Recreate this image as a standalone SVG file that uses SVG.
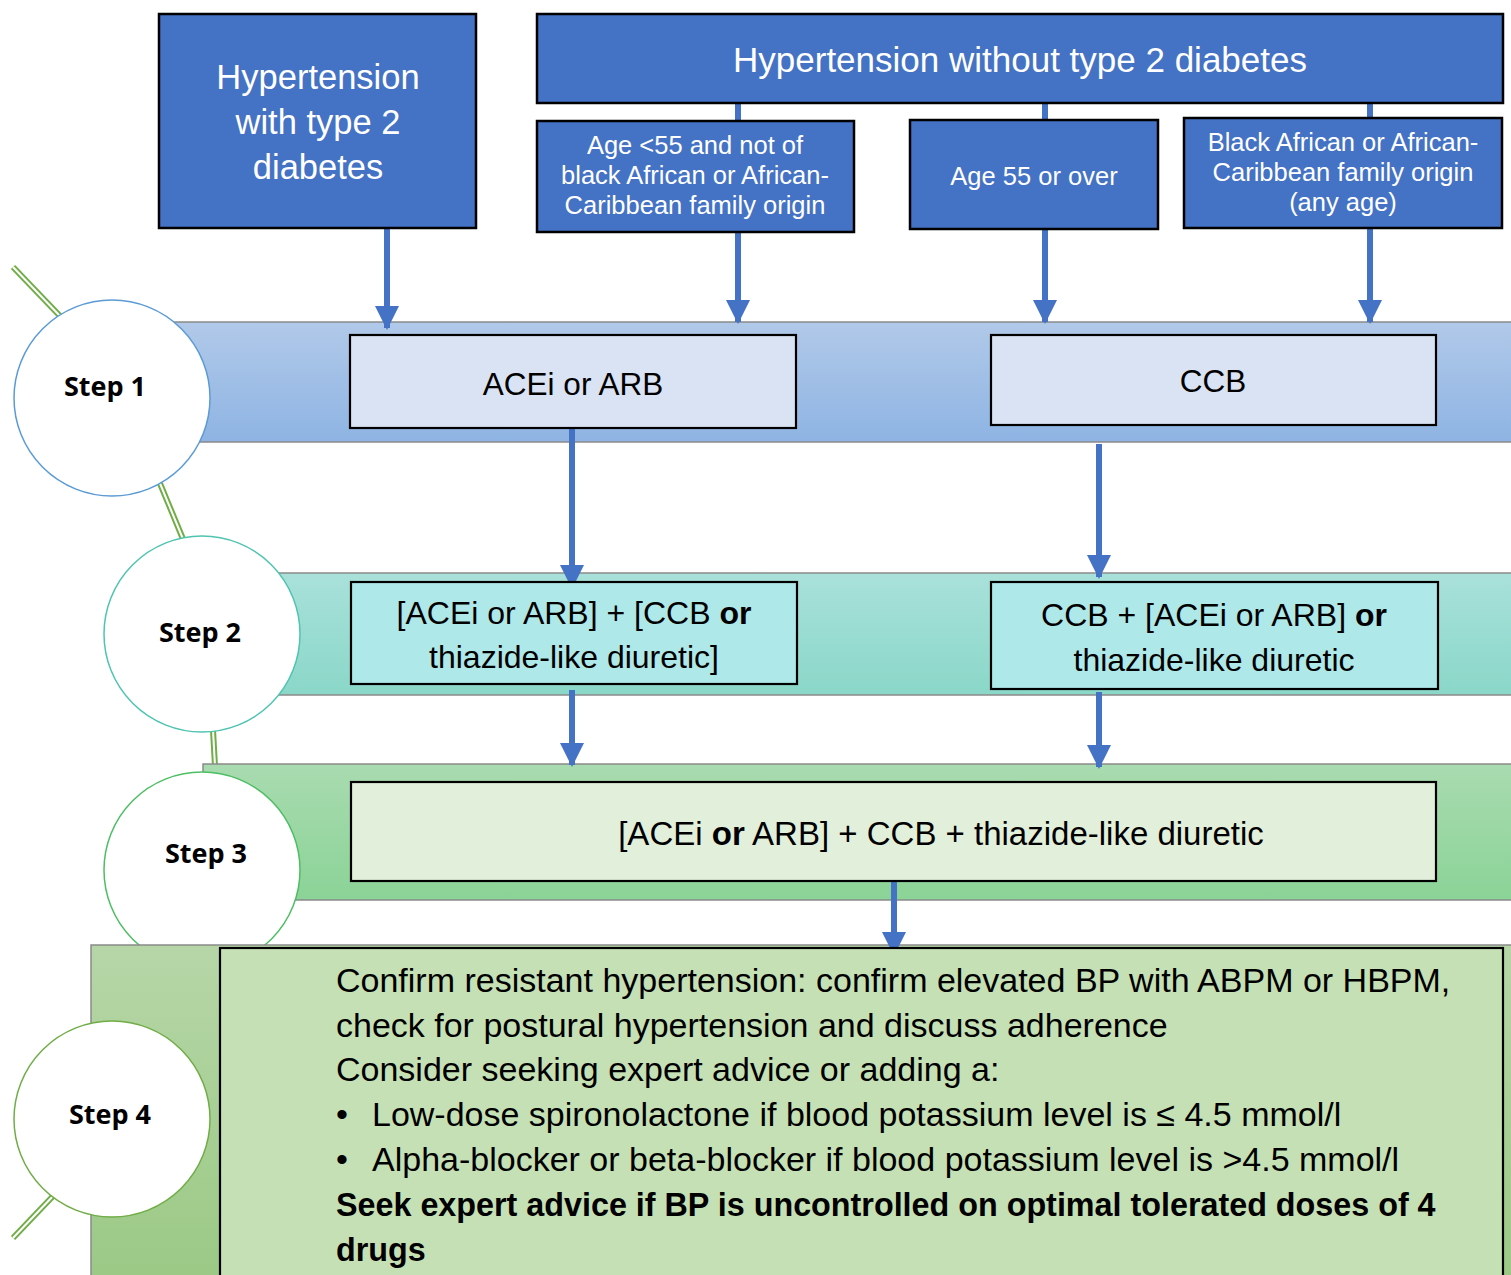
<svg xmlns="http://www.w3.org/2000/svg" width="1511" height="1275" viewBox="0 0 1511 1275">
<style>
  .t { font-family: "Liberation Sans", Arial, sans-serif; }
  .w { fill: #ffffff; }
  .k { fill: #000000; }
  .blue { fill: #4472C4; stroke: #000000; stroke-width: 2.5; }
  .band { stroke: #8a8a8a; stroke-width: 1.5; }
  .box { stroke: #000000; stroke-width: 2.2; }
  .circ { fill: #ffffff; stroke-width: 1.5; }
  .conn { stroke: #4472C4; stroke-width: 6; fill: none; }
  .arrow { stroke: #4472C4; stroke-width: 6; fill: none; marker-end: url(#ah); }
  .gl1 { stroke: #70AD47; stroke-width: 6; fill: none; }
  .gl2 { stroke: #ffffff; stroke-width: 2; fill: none; }
  .step { font-family: "Open Sans", "Liberation Sans", sans-serif; font-weight: bold; font-size: 27px; fill: #000; text-anchor: middle; }
</style>
<defs>
  <marker id="ah" markerUnits="userSpaceOnUse" markerWidth="24" markerHeight="24" viewBox="0 0 24 24" refX="22" refY="12" orient="auto">
    <path d="M0,0 L24,12 L0,24 Z" fill="#4472C4"/>
  </marker>
  <linearGradient id="g1" x1="0" y1="0" x2="0" y2="1"><stop offset="0" stop-color="#B1C9E9"/><stop offset="1" stop-color="#8EB4E3"/></linearGradient>
  <linearGradient id="g2" x1="0" y1="0" x2="0" y2="1"><stop offset="0" stop-color="#A9E1DA"/><stop offset="1" stop-color="#8AD7C8"/></linearGradient>
  <linearGradient id="g3" x1="0" y1="0" x2="0" y2="1"><stop offset="0" stop-color="#A9DBB0"/><stop offset="1" stop-color="#8BD397"/></linearGradient>
  <linearGradient id="g4" x1="0" y1="0" x2="0" y2="1"><stop offset="0" stop-color="#B6D6A7"/><stop offset="1" stop-color="#9BC985"/></linearGradient>
</defs>

<!-- green linking lines between step circles -->
<g id="step-links">
  <path class="gl1" d="M13,267 L60,316"/><path class="gl2" d="M13,267 L60,316"/>
  <path class="gl1" d="M159,481 L183,539"/><path class="gl2" d="M159,481 L183,539"/>
  <path class="gl1" d="M213,730 L215,766"/><path class="gl2" d="M213,730 L215,766"/>
  <path class="gl1" d="M55,1194 L13,1238"/><path class="gl2" d="M55,1194 L13,1238"/>
</g>

<!-- step bands and circles -->
<g id="step1">
  <rect class="band" x="170" y="322" width="1345" height="120" fill="url(#g1)"/>
  <circle class="circ" cx="112" cy="398" r="98" stroke="#5B9BD5"/>
  <text class="step" x="105" y="396">Step 1</text>
</g>
<g id="step2">
  <rect class="band" x="270" y="573" width="1245" height="122" fill="url(#g2)"/>
  <circle class="circ" cx="202" cy="634" r="98" stroke="#4FC4B1"/>
  <text class="step" x="200" y="642">Step 2</text>
</g>
<g id="step3">
  <rect class="band" x="203" y="764" width="1312" height="136" fill="url(#g3)"/>
  <circle class="circ" cx="202" cy="870" r="98" stroke="#4DBE63"/>
  <text class="step" x="206" y="863">Step 3</text>
</g>
<g id="step4">
  <rect class="band" x="91" y="945" width="1424" height="335" fill="url(#g4)"/>
  <circle class="circ" cx="112" cy="1119" r="98" stroke="#70AD47"/>
  <text class="step" x="110" y="1124">Step 4</text>
</g>

<!-- connectors -->
<g id="connectors">
  <path class="conn" d="M738,103 L738,121"/>
  <path class="conn" d="M1045,103 L1045,120"/>
  <path class="conn" d="M1370,103 L1370,118"/>
  <path class="arrow" d="M387,228 L387,328"/>
  <path class="arrow" d="M738,232 L738,322"/>
  <path class="arrow" d="M1045,229 L1045,322"/>
  <path class="arrow" d="M1370,228 L1370,322"/>
  <path class="arrow" d="M572,426 L572,587"/>
  <path class="arrow" d="M1099,444 L1099,577"/>
  <path class="arrow" d="M572,690 L572,765"/>
  <path class="arrow" d="M1099,692 L1099,767"/>
  <path class="arrow" d="M894,882 L894,954"/>
</g>

<!-- top nodes -->
<g id="node-t2d">
  <rect class="blue" x="159" y="14" width="317" height="214"/>
  <text class="t w" font-size="34.5" text-anchor="middle"><tspan x="318" y="89">Hypertension</tspan><tspan x="318" y="134">with type 2</tspan><tspan x="318" y="179">diabetes</tspan></text>
</g>
<g id="node-not2d">
  <rect class="blue" x="537" y="14" width="966" height="89"/>
  <text class="t w" font-size="35" text-anchor="middle" x="1020" y="72">Hypertension without type 2 diabetes</text>
</g>
<g id="node-under55">
  <rect class="blue" x="537" y="121" width="317" height="111"/>
  <text class="t w" font-size="25.5" text-anchor="middle"><tspan x="695" y="154">Age &lt;55 and not of</tspan><tspan x="695" y="184">black African or African-</tspan><tspan x="695" y="214">Caribbean family origin</tspan></text>
</g>
<g id="node-55over">
  <rect class="blue" x="910" y="120" width="248" height="109"/>
  <text class="t w" font-size="25.5" text-anchor="middle" x="1034" y="185">Age 55 or over</text>
</g>
<g id="node-black">
  <rect class="blue" x="1184" y="118" width="318" height="110"/>
  <text class="t w" font-size="25.5" text-anchor="middle"><tspan x="1343" y="151">Black African or African-</tspan><tspan x="1343" y="181">Caribbean family origin</tspan><tspan x="1343" y="211">(any age)</tspan></text>
</g>

<!-- step boxes -->
<g id="node-acei">
  <rect class="box" x="350" y="335" width="446" height="93" fill="#DAE3F3"/>
  <text class="t k" font-size="31.5" text-anchor="middle" x="573" y="395">ACEi or ARB</text>
</g>
<g id="node-ccb">
  <rect class="box" x="991" y="335" width="445" height="90" fill="#DAE3F3"/>
  <text class="t k" font-size="31.5" text-anchor="middle" x="1213" y="392">CCB</text>
</g>
<g id="node-s2left">
  <rect class="box" x="351" y="582" width="446" height="102" fill="#AEE8E8"/>
  <text class="t k" font-size="32" text-anchor="middle"><tspan x="574" y="624">[ACEi or ARB] + [CCB <tspan font-weight="bold">or</tspan></tspan><tspan x="574" y="668">thiazide-like diuretic]</tspan></text>
</g>
<g id="node-s2right">
  <rect class="box" x="991" y="582" width="447" height="107" fill="#AEE8E8"/>
  <text class="t k" font-size="32" text-anchor="middle"><tspan x="1214" y="626">CCB + [ACEi or ARB] <tspan font-weight="bold">or</tspan></tspan><tspan x="1214" y="671">thiazide-like diuretic</tspan></text>
</g>
<g id="node-s3">
  <rect class="box" x="351" y="782" width="1085" height="99" fill="#E2EFDA"/>
  <text class="t k" font-size="33" text-anchor="middle" x="941" y="845">[ACEi <tspan font-weight="bold">or</tspan> ARB] + CCB + thiazide-like diuretic</text>
</g>
<g id="node-s4">
  <rect class="box" x="220" y="948" width="1283" height="340" fill="#C5E0B4"/>
  <text class="t k" font-size="34">
    <tspan x="336" y="992">Confirm resistant hypertension: confirm elevated BP with ABPM or HBPM,</tspan>
    <tspan x="336" y="1037">check for postural hypertension and discuss adherence</tspan>
    <tspan x="336" y="1081">Consider seeking expert advice or adding a:</tspan>
    <tspan x="336" y="1126">•</tspan><tspan x="372" y="1126">Low-dose spironolactone if blood potassium level is ≤ 4.5 mmol/l</tspan>
    <tspan x="336" y="1171">•</tspan><tspan x="372" y="1171">Alpha-blocker or beta-blocker if blood potassium level is &gt;4.5 mmol/l</tspan>
    <tspan x="336" y="1216" font-weight="bold" font-size="32.3">Seek expert advice if BP is uncontrolled on optimal tolerated doses of 4</tspan>
    <tspan x="336" y="1261" font-weight="bold" font-size="32.3">drugs</tspan>
  </text>
</g>
</svg>
